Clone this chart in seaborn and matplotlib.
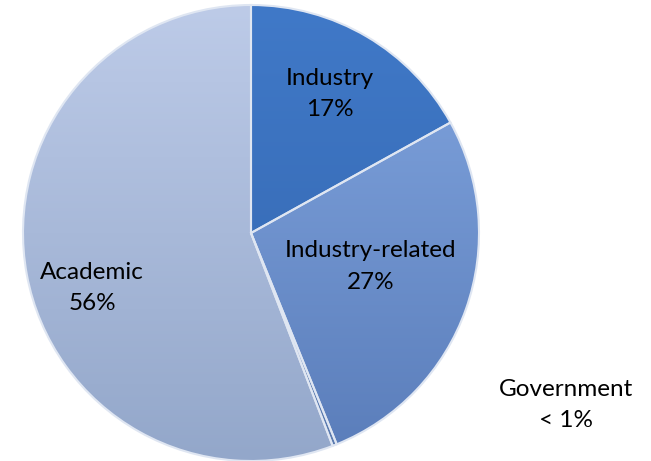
import numpy as np
import matplotlib.pyplot as plt
from matplotlib.colors import LinearSegmentedColormap
import seaborn as sns

# data
sectors = ['Industry', 'Industry-related', 'Government', 'Academic']
shares = [17, 27, 0.3, 56]
pct_labels = ['17%', '27%', '< 1%', '56%']
top_colors = ['#4079c8', '#82a6e0', '#6e90c8', '#bdcbe8']
bottom_colors = ['#3365ad', '#5a7dba', '#5a7aae', '#93a7ca']
# label centres in pie units (radius = 1)
label_x = [0.346, 0.526, 1.382, -0.697]
label_y = [0.610, -0.147, -0.754, -0.241]

sns.set_theme(style='white')
plt.rcParams['font.family'] = ['Lato', 'DejaVu Sans']

fig = plt.figure(figsize=(6.51, 4.61), dpi=100)
R = 228
ax = fig.add_axes([(251 - R) / 651, (461 - 233 - R) / 461, 2 * R / 651, 2 * R / 461])

wedges, _ = ax.pie(shares, colors=top_colors, startangle=90, counterclock=False,
                   wedgeprops=dict(edgecolor='#dfe6f2', linewidth=1.5))

# soft vertical gradient inside each wedge, like the office-style shading
grad = np.linspace(1, 0, 256).reshape(-1, 1)
for i, w in enumerate(wedges):
    cmap = LinearSegmentedColormap.from_list('g%d' % i, [bottom_colors[i], top_colors[i]])
    im = ax.imshow(grad, cmap=cmap, extent=(-1, 1, -1, 1), aspect='auto', zorder=w.get_zorder() - 0.1)
    im.set_clip_path(w)
    w.set_facecolor('none')

ax.set_xlim(-1, 1)
ax.set_ylim(-1, 1)
ax.set_aspect('equal')
ax.axis('off')

for i in range(len(sectors)):
    ax.text(label_x[i], label_y[i], sectors[i] + '\n' + pct_labels[i], ha='center', va='center',
            fontsize=17.5, color='black', linespacing=1.62, clip_on=False)

plt.savefig('out.png', dpi=100)
